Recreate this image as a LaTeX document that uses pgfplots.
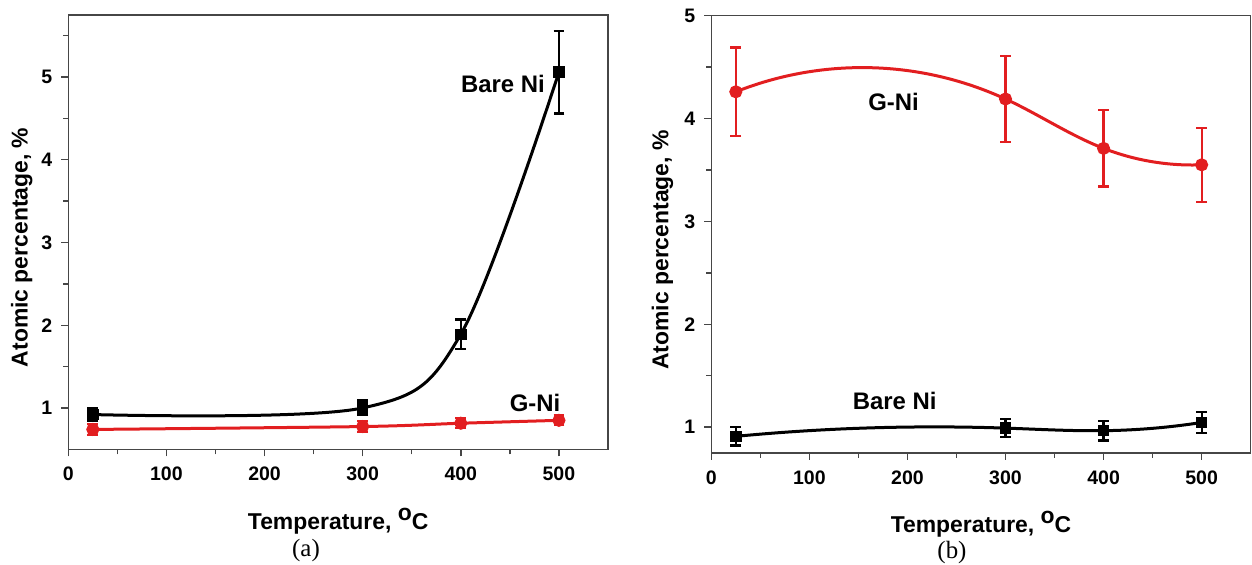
\documentclass[border=0pt]{standalone}
\usepackage{fontspec}
\setmainfont{Liberation Sans}
\newfontfamily\capfont{Liberation Serif}
\usepackage{pgfplots}
\usepackage{pgfplotstable}
\usetikzlibrary{hobby}
\pgfplotsset{compat=1.18}
\definecolor{oriRed}{RGB}{226,30,32}
\definecolor{axgray}{RGB}{70,70,70}

\pgfplotstableread{
x y e
25 0.92 0.08
300 1.00 0.09
400 1.89 0.18
500 5.06 0.50
}\leftbare
\pgfplotstableread{
x y e
25 0.74 0.07
300 0.775 0.065
400 0.815 0.06
500 0.85 0.06
}\leftgni
\pgfplotstableread{
x y e
25 4.26 0.43
300 4.19 0.42
400 3.71 0.37
500 3.55 0.36
}\rightgni
\pgfplotstableread{
x y e
25 0.91 0.09
300 0.99 0.09
400 0.965 0.095
500 1.045 0.10
}\rightbare

\tikzset{
  tlab/.style={font=\bfseries\fontsize{12}{12}\selectfont, anchor=center},
  caplab/.style={font=\capfont\fontsize{12.5}{12.5}\selectfont, anchor=center},
}

\pgfplotsset{
  panel/.style={
    scale only axis,
    xmin=0, xmax=550,
    xtick={0,100,...,500},
    minor xtick={50,150,...,450},
    axis line style={axgray, line width=0.7bp},
    every tick/.style={axgray, line width=0.7bp},
    major tick length=3.5bp, minor tick length=2.5bp,
    tick align=outside,
    xtick pos=left, ytick pos=left,
    /pgf/number format/assume math mode=true,
    tick label style={font=\bfseries\fontsize{9.8}{9.8}\selectfont},
    xticklabel style={yshift=-1.8bp},
    yticklabel style={xshift=-1bp},
    every axis x label/.style={anchor=center, font=\bfseries\fontsize{11.5}{11.5}\selectfont},
    every axis y label/.style={anchor=center, rotate=90, font=\bfseries\fontsize{11.5}{11.5}\selectfont},
    xlabel={Temperature, \raisebox{0.75ex}{o}C},
    ylabel={Atomic percentage, \%},
    clip=false,
  },
  blackser/.style={black, line width=1.5bp,
    mark=square*, mark size=2.1bp, mark options={solid, fill=black},
    error bars/.cd, y dir=both, y explicit,
    error bar style={line width=1.1bp, black},
    error mark options={rotate=90, line width=1.1bp, mark size=2.7bp, black}},
  redser/.style={oriRed, line width=1.5bp,
    mark=*, mark size=2.5bp, mark options={solid, fill=oriRed},
    error bars/.cd, y dir=both, y explicit,
    error bar style={line width=1.1bp, oriRed},
    error mark options={rotate=90, line width=1.1bp, mark size=2.7bp, oriRed}},
}

\begin{document}
\begin{tikzpicture}
\useasboundingbox (0,0) rectangle (626bp,282.5bp);

\begin{axis}[panel,
  at={(34.15bp,57.85bp)}, anchor=south west,
  width=269.85bp, height=217.15bp,
  ymin=0.5, ymax=5.75,
  ytick={1,2,3,4,5},
  minor ytick={1.5,2.5,3.5,4.5,5.5},
  xlabel style={at={(axis description cs:0.5,-0.1651)}},
  ylabel style={at={(axis description cs:-0.0862,0.465)}},
]
\addplot[smooth, redser] table[x=x, y=y, y error=e] {\leftgni};
\addplot[smooth, tension=0.55, blackser] table[x=x, y=y, y error=e] {\leftbare};
\node[tlab] at (axis cs:443,4.92) {Bare Ni};
\node[tlab] at (axis cs:475.6,1.06) {G-Ni};
\node[caplab] at (axis description cs:0.4404,-0.2319) {(a)};
\end{axis}

\begin{axis}[panel,
  at={(355.65bp,56.1bp)}, anchor=south west,
  width=269.7bp, height=218.55bp,
  ymin=0.75, ymax=5,
  ytick={1,2,3,4,5},
  minor ytick={1.5,2.5,3.5,4.5},
  xlabel style={at={(axis description cs:0.5,-0.163)}},
  ylabel style={at={(axis description cs:-0.0905,0.464)}},
]
\addplot[hobby, redser] table[x=x, y=y, y error=e] {\rightgni};
\addplot[hobby, blackser] table[x=x, y=y, y error=e] {\rightbare};
\node[tlab] at (axis cs:185.8,4.165) {G-Ni};
\node[tlab] at (axis cs:187,1.256) {Bare Ni};
\node[caplab] at (axis description cs:0.4462,-0.227) {(b)};
\end{axis}
\end{tikzpicture}
\end{document}
